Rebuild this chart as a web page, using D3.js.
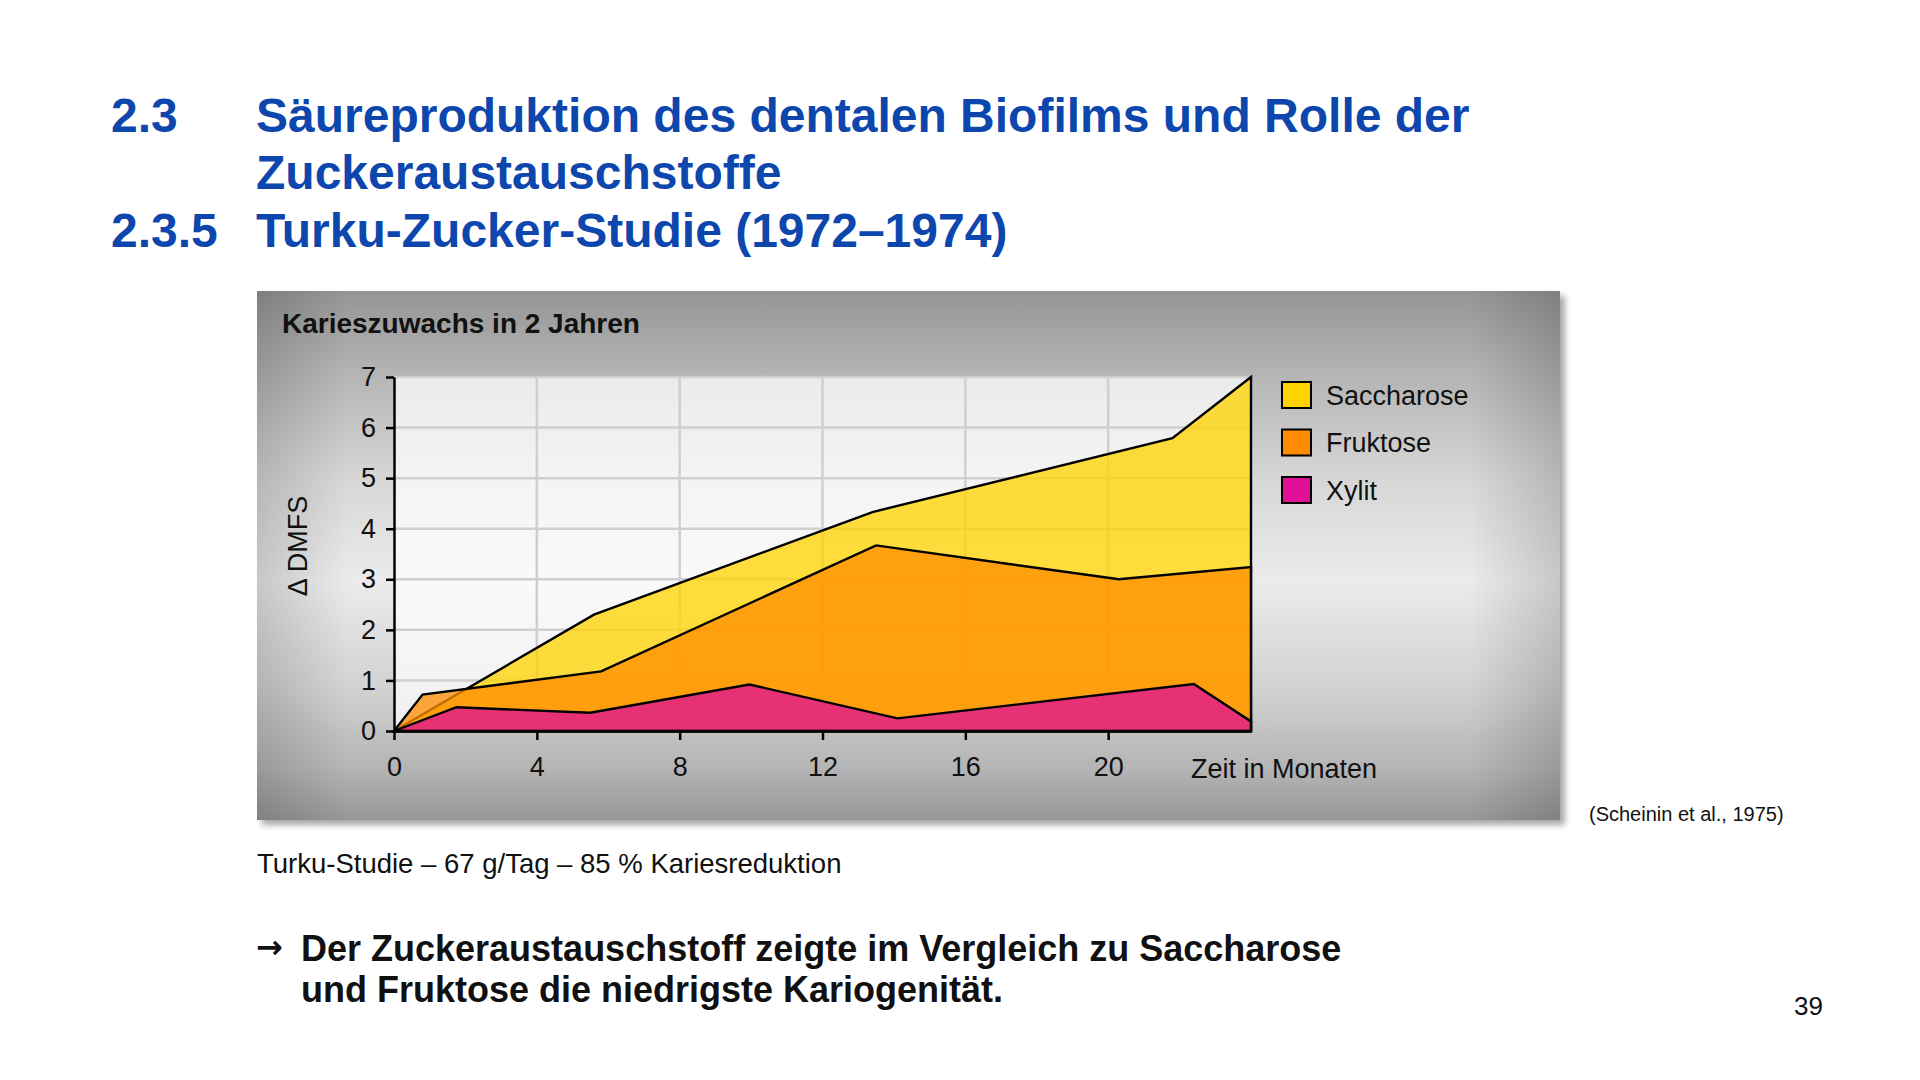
<!DOCTYPE html>
<html><head><meta charset="utf-8">
<script src="https://cdn.jsdelivr.net/npm/d3@7"></script>
<style>
body{margin:0;background:#fff}
svg{display:block}
text{font-family:"Liberation Sans",Arial,Helvetica,sans-serif}
</style>
</head><body>
<svg id="c" width="1920" height="1080"></svg>
<script>
// ---- data ----
const seriesNames = ["Saccharose", "Fruktose", "Xylit"];
const saccharoseMonths = [0, 5.6, 13.4, 21.8, 24];
const saccharoseValues = [0, 2.3, 4.33, 5.79, 7.0];
const fruktoseMonths = [0, 0.8, 5.8, 13.5, 20.3, 24];
const fruktoseValues = [0, 0.72, 1.18, 3.67, 3.0, 3.24];
const xylitMonths = [0, 1.75, 5.5, 9.95, 14.1, 22.4, 24];
const xylitValues = [0, 0.47, 0.36, 0.92, 0.25, 0.93, 0.19];
const xTicks = [0, 4, 8, 12, 16, 20];
const yTicks = [0, 1, 2, 3, 4, 5, 6, 7];
const xGrid = [4, 8, 12, 16, 20];
const yGrid = [1, 2, 3, 4, 5, 6, 7];

const seriesColors = ["#ffd200", "#ff8c00", "#e00f96"];

const series = [
  {name: seriesNames[0], pts: saccharoseMonths.map((m, i) => ({m, v: saccharoseValues[i]}))},
  {name: seriesNames[1], pts: fruktoseMonths.map((m, i) => ({m, v: fruktoseValues[i]}))},
  {name: seriesNames[2], pts: xylitMonths.map((m, i) => ({m, v: xylitValues[i]}))}
];

const svg = d3.select("#c");
const defs = svg.append("defs");
const FONT = '"Liberation Sans",Arial,Helvetica,sans-serif';

// panel gradients
const vg = defs.append("linearGradient").attr("id", "vg").attr("x1", 0).attr("y1", 0).attr("x2", 0).attr("y2", 1);
[[0, "#959595"], [0.15, "#b3b3b3"], [0.35, "#d6d6d6"], [0.55, "#ebebeb"], [0.75, "#d2d2d2"], [0.9, "#b5b5b5"], [1, "#979797"]]
  .forEach(([o, c]) => vg.append("stop").attr("offset", o).attr("stop-color", c));
const hg = defs.append("linearGradient").attr("id", "hg").attr("x1", 0).attr("y1", 0).attr("x2", 1).attr("y2", 0);
[[0, 0.15], [0.07, 0], [0.93, 0], [1, 0.15]]
  .forEach(([o, a]) => hg.append("stop").attr("offset", o).attr("stop-color", "#000").attr("stop-opacity", a));
const sh = defs.append("filter").attr("id", "sh").attr("x", "-5%").attr("y", "-5%").attr("width", "110%").attr("height", "115%");
sh.append("feDropShadow").attr("dx", 5).attr("dy", 5).attr("stdDeviation", 3).attr("flood-color", "#000").attr("flood-opacity", 0.35);

// titles
const title = svg.append("g").attr("fill", "#0d47ad").attr("font-weight", "bold").attr("font-size", 48).attr("font-family", FONT);
title.append("text").attr("x", 111).attr("y", 132).text("2.3");
title.append("text").attr("x", 256).attr("y", 132).text("Säureproduktion des dentalen Biofilms und Rolle der");
title.append("text").attr("x", 256).attr("y", 189).text("Zuckeraustauschstoffe");
title.append("text").attr("x", 111).attr("y", 247).text("2.3.5");
title.append("text").attr("x", 256).attr("y", 247).text("Turku-Zucker-Studie (1972–1974)");

// panel
const P = {x: 257, y: 291, w: 1303, h: 529};
svg.append("rect").attr("x", P.x).attr("y", P.y).attr("width", P.w).attr("height", P.h)
  .attr("fill", "url(#vg)").attr("filter", "url(#sh)");
svg.append("rect").attr("x", P.x).attr("y", P.y).attr("width", P.w).attr("height", P.h).attr("fill", "url(#hg)");

svg.append("text").attr("x", 282).attr("y", 333).attr("font-size", 28).attr("font-weight", "bold")
  .attr("fill", "#111").text("Karieszuwachs in 2 Jahren");

// scales
const x = d3.scaleLinear().domain([0, 24]).range([394, 1251]);
const y = d3.scaleLinear().domain([0, 7]).range([731, 377]);

// plot background
svg.append("rect").attr("x", x(0)).attr("y", y(7)).attr("width", x(24) - x(0)).attr("height", y(0) - y(7))
  .attr("fill", "#fff").attr("opacity", 0.72);

// grid
const grid = svg.append("g").attr("stroke", "#cfcfcf").attr("stroke-width", 2.5);
grid.selectAll("line.h").data(yGrid).join("line").attr("class", "h")
  .attr("x1", x(0)).attr("x2", x(24)).attr("y1", d => y(d)).attr("y2", d => y(d));
grid.selectAll("line.v").data(xGrid).join("line").attr("class", "v")
  .attr("x1", d => x(d)).attr("x2", d => x(d)).attr("y1", y(0)).attr("y2", y(7));

// areas
const area = d3.area().x(d => x(d.m)).y0(y(0)).y1(d => y(d.v));
svg.append("g").selectAll("path").data(series).join("path")
  .attr("d", d => area(d.pts))
  .attr("fill", (d, i) => seriesColors[i])
  .attr("fill-opacity", 0.76)
  .attr("stroke", "#000").attr("stroke-width", 2.4).attr("stroke-linejoin", "miter");

// axes
const xAxis = svg.append("g").attr("transform", `translate(0,${y(0)})`)
  .call(d3.axisBottom(x).tickValues(xTicks).tickFormat(d3.format("d")).tickSize(9).tickSizeOuter(0).tickPadding(17));
const yAxis = svg.append("g").attr("transform", `translate(${x(0)},0)`)
  .call(d3.axisLeft(y).tickValues(yTicks).tickFormat(d3.format("d")).tickSize(8).tickSizeOuter(0).tickPadding(10));
[xAxis, yAxis].forEach(a => {
  a.selectAll("path,line").attr("stroke", "#000").attr("stroke-width", 2.5);
  a.selectAll("text").attr("font-size", 27).attr("font-family", FONT).attr("fill", "#111");
});

svg.append("text").attr("x", 1191).attr("y", 778).attr("font-size", 27).attr("fill", "#111").text("Zeit in Monaten");
svg.append("text").attr("transform", "translate(307,546) rotate(-90)").attr("text-anchor", "middle")
  .attr("font-size", 27).attr("fill", "#111").text("Δ DMFS");

// legend
const leg = svg.append("g").selectAll("g").data(seriesNames).join("g")
  .attr("transform", (d, i) => `translate(1282,${395 + i * 47.5})`);
leg.append("rect").attr("x", 0).attr("y", -13).attr("width", 29).attr("height", 26)
  .attr("fill", (d, i) => seriesColors[i]).attr("stroke", "#000").attr("stroke-width", 2);
leg.append("text").attr("x", 44).attr("dy", "0.36em").attr("font-size", 27).attr("fill", "#111").text(d => d);

// notes
svg.append("text").attr("x", 1589).attr("y", 821).attr("font-size", 20).attr("fill", "#111").text("(Scheinin et al., 1975)");
svg.append("text").attr("x", 257).attr("y", 873).attr("font-size", 27.5).attr("fill", "#111").text("Turku-Studie – 67 g/Tag – 85 % Kariesreduktion");
const concl = svg.append("g").attr("font-size", 36).attr("font-weight", "bold").attr("fill", "#111");
concl.append("text").attr("x", 256).attr("y", 958).attr("font-size", 32)
  .style("font-family", '"DejaVu Sans",sans-serif').text("→");
concl.append("text").attr("x", 301).attr("y", 961).text("Der Zuckeraustauschstoff zeigte im Vergleich zu Saccharose");
concl.append("text").attr("x", 301).attr("y", 1002).text("und Fruktose die niedrigste Kariogenität.");
svg.append("text").attr("x", 1794).attr("y", 1015).attr("font-size", 26).attr("fill", "#111").text("39");
</script>
</body></html>
